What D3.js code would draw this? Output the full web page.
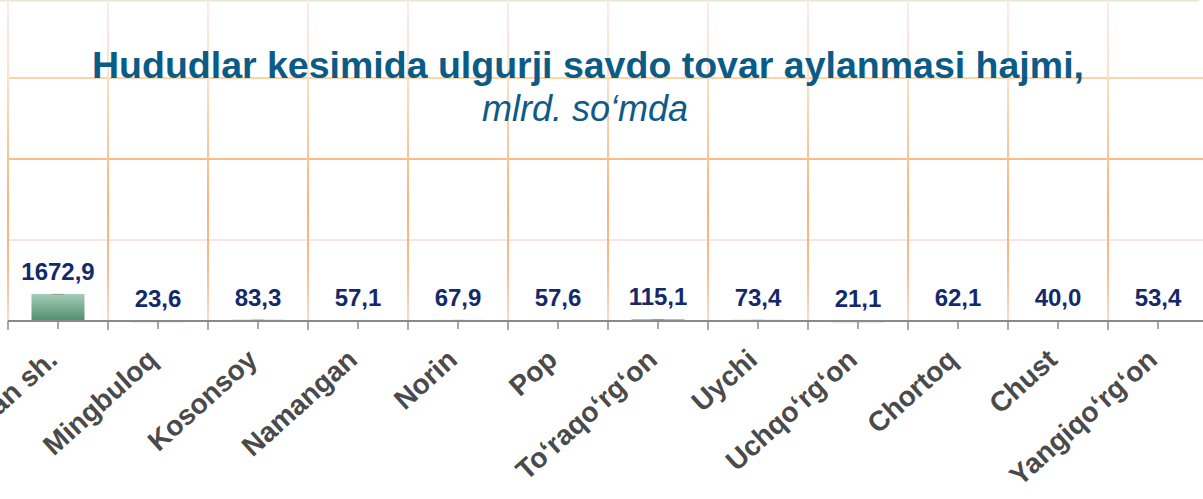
<!DOCTYPE html>
<html>
<head>
<meta charset="utf-8">
<script src="https://cdn.jsdelivr.net/npm/d3@7"></script>
<style>
  html, body { margin: 0; padding: 0; background: #ffffff; }
  svg { display: block; }
</style>
</head>
<body>
<svg id="chart" width="1203" height="499"></svg>
<script>
// Regions of Namangan viloyati and their wholesale trade turnover, mlrd. so'm
const regions = ["Namangan sh.", "Mingbuloq", "Kosonsoy", "Namangan", "Norin", "Pop",
  "To\u2018raqo\u2018rg\u2018on", "Uychi", "Uchqo\u2018rg\u2018on", "Chortoq", "Chust", "Yangiqo\u2018rg\u2018on"];
const turnover = [1672.9, 23.6, 83.3, 57.1, 67.9, 57.6, 115.1, 73.4, 21.1, 62.1, 40.0, 53.4];
const gridValues = [5000, 10000, 15000, 20000];
const titleText = "Hududlar kesimida ulgurji savdo tovar aylanmasi hajmi,";
const subtitleText = "mlrd. so\u2018mda";

const W = 1203, H = 499;
const svg = d3.select("#chart");
const FONT = "'Liberation Sans', Arial, Helvetica, sans-serif";

const x = d3.scaleBand().domain(regions).range([8, 1208]).paddingInner(0.47).paddingOuter(0.235);
const y = d3.scaleLinear().domain([0, 20000]).range([321, -3]);
const step = x.step();

const defs = svg.append("defs");
const barGrad = defs.append("linearGradient").attr("id", "barGrad")
  .attr("x1", 0).attr("y1", 0).attr("x2", 0).attr("y2", 1);
barGrad.append("stop").attr("offset", "0%").attr("stop-color", "#a6cdb8");
barGrad.append("stop").attr("offset", "100%").attr("stop-color", "#4f8d6c");

const vGrad = defs.append("linearGradient").attr("id", "vGrid")
  .attr("gradientUnits", "userSpaceOnUse").attr("x1", 0).attr("y1", 0).attr("x2", 0).attr("y2", 321);
[["0%", "#fde9ee"], ["22%", "#fde2cc"], ["45%", "#fdc79a"], ["65%", "#fbb07a"],
 ["85%", "#fcbb8e"], ["100%", "#fdd8d0"]].forEach(([o, c]) =>
  vGrad.append("stop").attr("offset", o).attr("stop-color", c));

// top frame line
svg.append("line").attr("x1", 0).attr("x2", 1199).attr("y1", 0.5).attr("y2", 0.5)
  .attr("stroke", "#e2e8d3").attr("stroke-width", 2);

// horizontal gridlines
const hColors = { 5000: "#fde3e6", 10000: "#fcbb8a", 15000: "#fdd3a8", 20000: "#fde9ee" };
svg.append("g").selectAll("line").data(gridValues).join("line")
  .attr("x1", 8).attr("x2", W)
  .attr("y1", d => y(d)).attr("y2", d => y(d))
  .attr("stroke", d => hColors[d]).attr("stroke-width", 2);

// vertical gridlines at category boundaries
const bounds = regions.map(r => x(r) - (step - x.bandwidth()) / 2);
svg.append("g").selectAll("line").data(bounds).join("line")
  .attr("x1", d => d).attr("x2", d => d)
  .attr("y1", 0).attr("y2", y(0))
  .attr("stroke", "url(#vGrid)").attr("stroke-width", 2);

// bars
svg.append("g").selectAll("rect").data(turnover).join("rect")
  .attr("x", (d, i) => x(regions[i]))
  .attr("width", x.bandwidth())
  .attr("y", d => y(d))
  .attr("height", d => Math.max(y(0) - y(d), 1.5))
  .attr("fill", "url(#barGrad)");

// small cap mark on top of each bar
svg.append("g").selectAll("line").data(turnover).join("line")
  .attr("x1", (d, i) => x(regions[i]) + x.bandwidth() / 2 - 6)
  .attr("x2", (d, i) => x(regions[i]) + x.bandwidth() / 2 + 6)
  .attr("y1", d => y(d) + 0.5).attr("y2", d => y(d) + 0.5)
  .attr("stroke", "#9a9a9a").attr("stroke-width", 1);

// category axis
const axisG = svg.append("g").attr("transform", `translate(0,${y(0)})`);
axisG.call(d3.axisBottom(x).tickSize(8).tickFormat(""));
axisG.select(".domain").remove();
axisG.selectAll(".tick line").attr("stroke", "#8a8a8a").attr("stroke-width", 1.5);
axisG.append("line").attr("x1", 8).attr("x2", W).attr("y1", 0).attr("y2", 0)
  .attr("stroke", "#8a8a8a").attr("stroke-width", 2);
axisG.selectAll(".bound").data(bounds).join("line").attr("class", "bound")
  .attr("x1", d => d).attr("x2", d => d).attr("y1", 0).attr("y2", 9)
  .attr("stroke", "#8a8a8a").attr("stroke-width", 1.5);

// value labels
svg.append("g").selectAll("text").data(turnover).join("text")
  .attr("x", (d, i) => x(regions[i]) + x.bandwidth() / 2)
  .attr("y", d => y(d) - 14)
  .attr("text-anchor", "middle")
  .attr("font-family", FONT).attr("font-weight", "bold").attr("font-size", 24)
  .attr("fill", "#13296b")
  .text(d => d3.format(".1f")(d).replace(".", ","));

// slanted category labels
svg.append("g").selectAll("text").data(regions).join("text")
  .attr("transform", d => `translate(${x(d) + x.bandwidth() / 2 + 1},${y(0) + 41}) rotate(-42)`)
  .attr("text-anchor", "end")
  .attr("font-family", FONT).attr("font-weight", "bold").attr("font-size", 28)
  .attr("fill", "#4a4a4a")
  .text(d => d);

// title
svg.append("text").attr("x", 588).attr("y", 78).attr("text-anchor", "middle")
  .attr("font-family", FONT).attr("font-weight", "bold").attr("font-size", 37.5)
  .attr("fill", "#0b5b87").text(titleText);
svg.append("text").attr("x", 585).attr("y", 121).attr("text-anchor", "middle")
  .attr("font-family", FONT).attr("font-style", "italic").attr("font-size", 36)
  .attr("fill", "#0f5a86").text(subtitleText);
</script>
</body>
</html>
